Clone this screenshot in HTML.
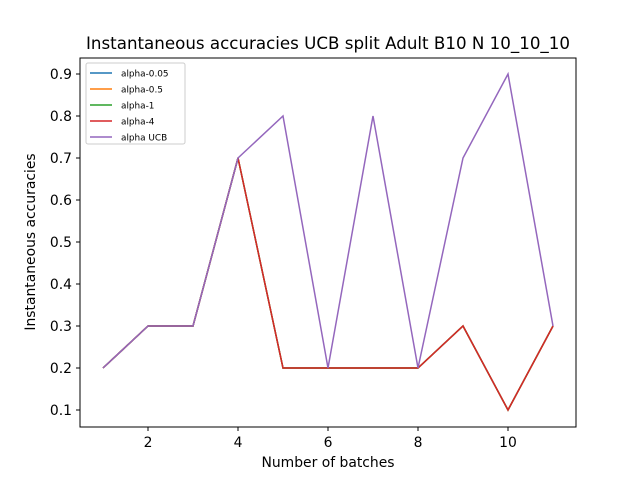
<!DOCTYPE html>
<html><head><meta charset="utf-8"><style>
body{margin:0;background:#fff}
svg{font-family:"DejaVu Sans","Liberation Sans",sans-serif}
</style></head><body>
<svg id="chart" width="640" height="480" viewBox="0 0 640 480">
<rect width="640" height="480" fill="#fff"/>
<text x="328" y="49" font-size="16.7" text-anchor="middle" textLength="484" lengthAdjust="spacingAndGlyphs">Instantaneous accuracies UCB split Adult B10 N 10_10_10</text>
<g id="ticks"></g>
<g id="lines"></g>
<rect x="80" y="58" width="496" height="369" fill="none" stroke="#000" stroke-width="1"/>
<text x="328" y="467" font-size="13.9" text-anchor="middle">Number of batches</text>
<text transform="translate(35,242) rotate(-90)" font-size="13.9" text-anchor="middle">Instantaneous accuracies</text>
<g id="legend"></g>
</svg>
<script>
const batches=[1,2,3,4,5,6,7,8,9,10,11];
const alpha005=[0.2,0.3,0.3,0.7,0.2,0.2,0.2,0.2,0.3,0.1,0.3];
const alpha05=[0.2,0.3,0.3,0.7,0.2,0.2,0.2,0.2,0.3,0.1,0.3];
const alpha1=[0.2,0.3,0.3,0.7,0.2,0.2,0.2,0.2,0.3,0.1,0.3];
const alpha4=[0.2,0.3,0.3,0.7,0.2,0.2,0.2,0.2,0.3,0.1,0.3];
const alphaUCB=[0.2,0.3,0.3,0.7,0.8,0.2,0.8,0.2,0.7,0.9,0.3];
const xTicks=[2,4,6,8,10];
const yTicks=[0.1,0.2,0.3,0.4,0.5,0.6,0.7,0.8,0.9];
const seriesNames=["alpha-0.05","alpha-0.5","alpha-1","alpha-4","alpha UCB"];
const colors=["#1f77b4","#ff7f0e","#2ca02c","#d62728","#9467bd"];
const allSeries=[alpha005,alpha05,alpha1,alpha4,alphaUCB];
const NS="http://www.w3.org/2000/svg";
const xs=v=>103+(v-1)*45;
const ys=v=>410-(v-0.1)*420;
const tg=document.getElementById('ticks');
function mk(tag,attrs,parent){const e=document.createElementNS(NS,tag);for(const k in attrs)e.setAttribute(k,attrs[k]);parent.appendChild(e);return e;}
xTicks.forEach(t=>{
 const l=mk('line',{x1:xs(t),x2:xs(t),y1:427,y2:431,stroke:'#000'},tg);
 
 
 const tx=mk('text',{x:xs(t),y:447,'font-size':13.9,'text-anchor':'middle'},tg);
 tx.textContent=t;
 
 
});
yTicks.forEach(t=>{
 const l=mk('line',{x1:76,x2:80,y1:ys(t),y2:ys(t),stroke:'#000'},tg);
 
 
 const tx=mk('text',{x:72,y:ys(t)+5,'font-size':13.9,'text-anchor':'end'},tg);
 tx.textContent=t.toFixed(1);
 
 
});
const lg=document.getElementById('lines');
allSeries.forEach((s,i)=>{
 const p=mk('polyline',{points:s.map((v,j)=>xs(batches[j])+','+ys(v)).join(' '),fill:'none',stroke:colors[i],'stroke-width':1.5},lg);
 
 
});
const leg=document.getElementById('legend');
mk('rect',{x:86,y:63,width:99,height:81,rx:2,fill:'#fff',stroke:'#ccc','fill-opacity':0.8},leg);
seriesNames.forEach((n,i)=>{
 const y=73+i*16;
 const l=mk('line',{x1:90,x2:112,y1:y,y2:y,stroke:colors[i],'stroke-width':1.5},leg);
 
 
 const t=mk('text',{x:121,y:y+3.5,'font-size':8.9},leg);
 t.textContent=n;
 
 
});
</script>
</body></html>
